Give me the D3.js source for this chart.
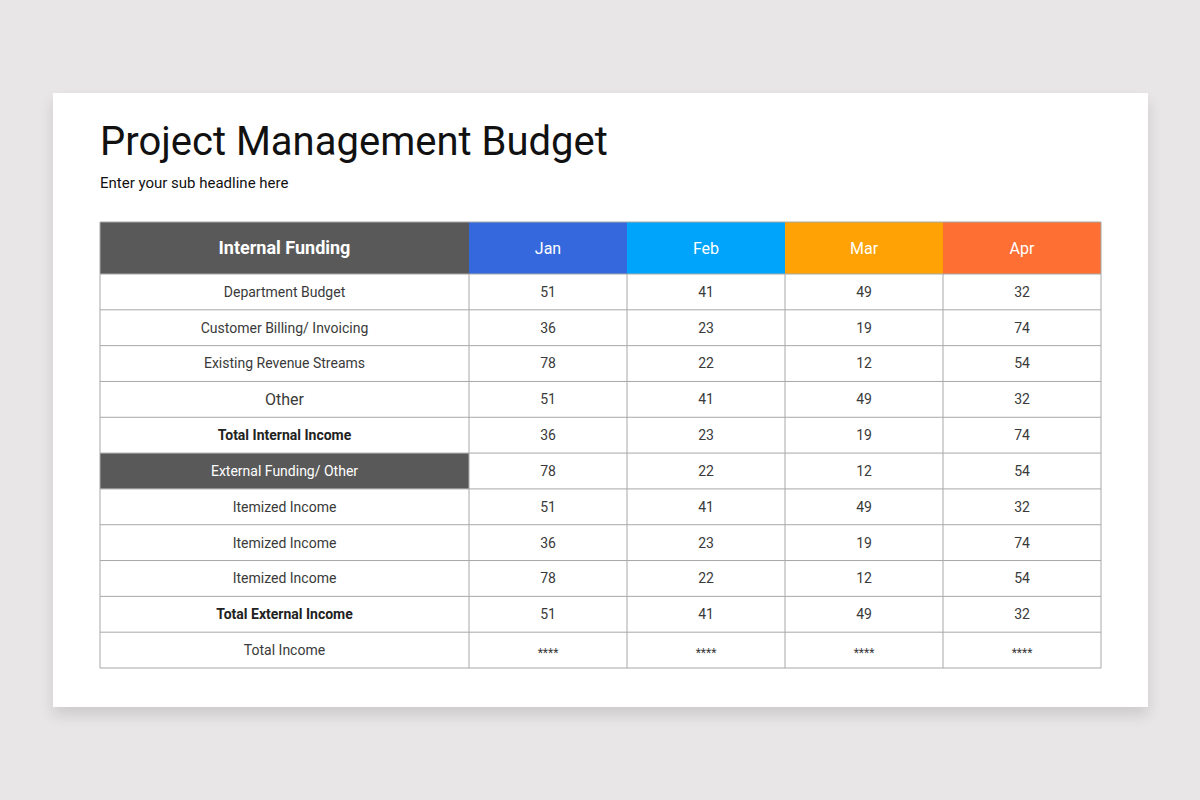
<!DOCTYPE html>
<html>
<head>
<meta charset="utf-8">
<script src="https://cdn.jsdelivr.net/npm/d3@7"></script>
<style>
  html, body { margin: 0; padding: 0; background: #e8e6e7; }
  body { width: 1200px; height: 800px; position: relative; overflow: hidden; font-family: Roboto, "Noto Sans", sans-serif; }
  #card { position: absolute; left: 53px; top: 93px; width: 1095px; height: 614px; background: #fff;
          box-shadow: 0 8px 14px rgba(0,0,0,0.12); }
</style>
</head>
<body>
<div id="card"></div>
<svg id="chart" width="1200" height="800" style="position:absolute;left:0;top:0"></svg>
<script>
const title = "Project Management Budget";
const subtitle = "Enter your sub headline here";
const headerLabel = "Internal Funding";
const months = ["Jan", "Feb", "Mar", "Apr"];
const monthColors = ["#3468dc", "#00a5fb", "#fea205", "#fe6f34"];
const rowLabels = [
  "Department Budget",
  "Customer Billing/ Invoicing",
  "Existing Revenue Streams",
  "Other",
  "Total Internal Income",
  "External Funding/ Other",
  "Itemized Income",
  "Itemized Income",
  "Itemized Income",
  "Total External Income",
  "Total Income"
];
const janValues = ["51", "36", "78", "51", "36", "78", "51", "36", "78", "51", "****"];
const febValues = ["41", "23", "22", "41", "23", "22", "41", "23", "22", "41", "****"];
const marValues = ["49", "19", "12", "49", "19", "12", "49", "19", "12", "49", "****"];
const aprValues = ["32", "74", "54", "32", "74", "54", "32", "74", "54", "32", "****"];
const boldRows = ["Total Internal Income", "Total External Income"];
const darkRows = ["External Funding/ Other"];

const values = [janValues, febValues, marValues, aprValues];

const svg = d3.select("#chart");

svg.append("text")
  .attr("x", 100).attr("y", 155)
  .style("font-size", "40px")
  .style("fill", "#111")
  .text(title);

svg.append("text")
  .attr("x", 100).attr("y", 188)
  .style("font-size", "15px")
  .style("fill", "#111")
  .text(subtitle);

const left = 100, labelRight = 469, right = 1101;
const headerTop = 222, headerBottom = 274, bottom = 668;

const x = d3.scaleBand()
  .domain(months)
  .range([labelRight, right]);

const y = d3.scaleBand()
  .domain(d3.range(rowLabels.length))
  .range([headerBottom, bottom]);

const g = svg.append("g");

// header
g.append("rect")
  .attr("x", left).attr("y", headerTop)
  .attr("width", labelRight - left).attr("height", headerBottom - headerTop)
  .attr("fill", "#595959");
g.append("text")
  .attr("x", (left + labelRight) / 2).attr("y", (headerTop + headerBottom) / 2)
  .attr("text-anchor", "middle").attr("dy", "0.35em")
  .style("font-size", "18px").style("font-weight", "bold").style("fill", "#fff")
  .text(headerLabel);

g.selectAll(".mhead")
  .data(months)
  .join("rect")
  .attr("class", "mhead")
  .attr("x", d => x(d)).attr("y", headerTop)
  .attr("width", x.bandwidth()).attr("height", headerBottom - headerTop)
  .attr("fill", (d, i) => monthColors[i]);

g.selectAll(".mlabel")
  .data(months)
  .join("text")
  .attr("class", "mlabel")
  .attr("x", d => x(d) + x.bandwidth() / 2).attr("y", (headerTop + headerBottom) / 2)
  .attr("text-anchor", "middle").attr("dy", "0.35em")
  .style("font-size", "16px").style("fill", "#fff")
  .text(d => d);

// label cells
const rows = g.selectAll(".row")
  .data(rowLabels)
  .join("g")
  .attr("class", "row")
  .attr("transform", (d, i) => `translate(0,${y(i)})`);

rows.append("rect")
  .attr("x", left).attr("width", labelRight - left)
  .attr("height", y.bandwidth())
  .attr("fill", d => darkRows.includes(d) ? "#595959" : "#fff");

rows.append("text")
  .attr("x", (left + labelRight) / 2).attr("y", y.bandwidth() / 2)
  .attr("text-anchor", "middle").attr("dy", "0.35em")
  .style("font-size", d => d === "Other" ? "16px" : "14px")
  .style("font-weight", d => boldRows.includes(d) ? "bold" : "normal")
  .style("fill", d => darkRows.includes(d) ? "#fff" : (boldRows.includes(d) ? "#222" : "#3a3a3a"))
  .text(d => d);

months.forEach((m, mi) => {
  rows.append("text")
    .attr("x", x(m) + x.bandwidth() / 2).attr("y", y.bandwidth() / 2)
    .attr("text-anchor", "middle").attr("dy", (d, i) => values[mi][i] === "****" ? "0.55em" : "0.35em")
    .style("font-size", (d, i) => values[mi][i] === "****" ? "12px" : "14px")
    .style("fill", "#3a3a3a")
    .text((d, i) => values[mi][i]);
});

// grid lines
const gridColor = "#a8a8a8";
g.selectAll(".hline")
  .data(d3.range(rowLabels.length + 1))
  .join("line")
  .attr("class", "hline")
  .attr("x1", left).attr("x2", right)
  .attr("y1", i => i === rowLabels.length ? bottom : y(i))
  .attr("y2", i => i === rowLabels.length ? bottom : y(i))
  .attr("stroke", gridColor).attr("stroke-width", 1);

const vlines = [left, labelRight].concat(months.slice(1).map(m => x(m))).concat([right]);
g.selectAll(".vline")
  .data(vlines)
  .join("line")
  .attr("class", "vline")
  .attr("x1", d => d).attr("x2", d => d)
  .attr("y1", (d, i) => (i === 0 || i === vlines.length - 1) ? headerTop : headerBottom)
  .attr("y2", bottom)
  .attr("stroke", gridColor).attr("stroke-width", 1);

g.append("line")
  .attr("x1", left).attr("x2", right)
  .attr("y1", headerTop).attr("y2", headerTop)
  .attr("stroke", gridColor).attr("stroke-width", 1);
</script>
</body>
</html>
